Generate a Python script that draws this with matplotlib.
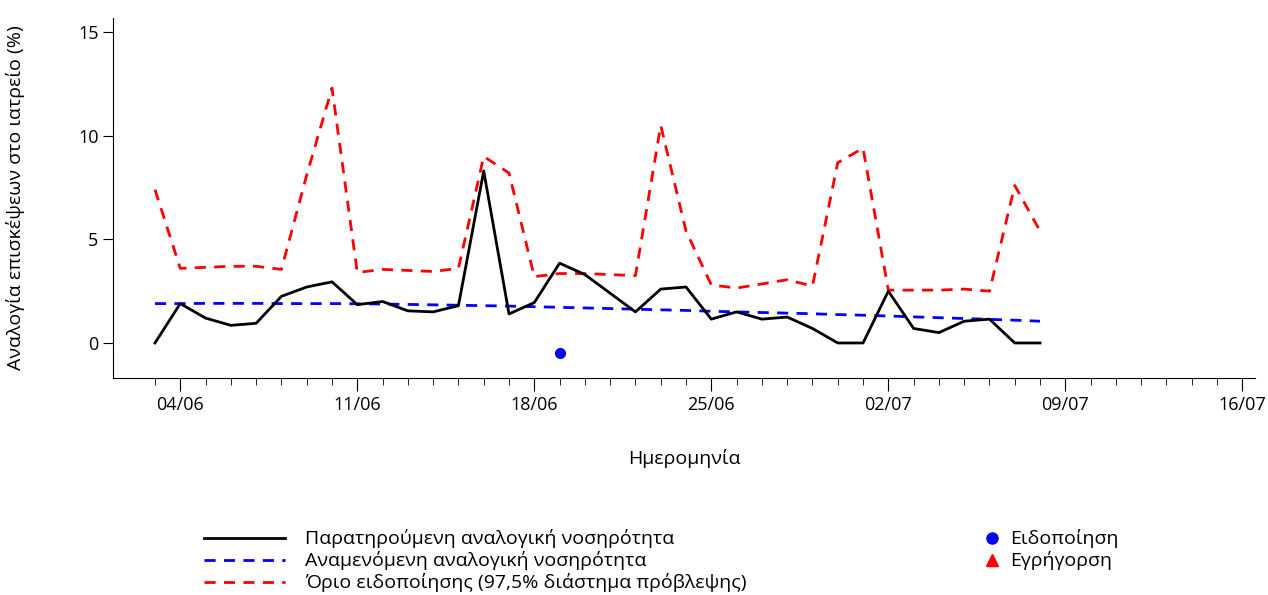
import matplotlib.pyplot as plt
from matplotlib.lines import Line2D

plt.rcParams['font.family'] = ['Open Sans', 'DejaVu Sans']

# day index 0 = 03/06
observed = [0, 1.9, 1.2, 0.85, 0.95, 2.25, 2.7, 2.95, 1.85, 2.0, 1.55, 1.5, 1.8, 8.3,
            1.4, 1.95, 3.85, 3.3, 2.4, 1.5, 2.6, 2.7, 1.15, 1.5, 1.15, 1.25, 0.7, 0, 0,
            2.5, 0.7, 0.5, 1.05, 1.15, 0, 0]
threshold = [7.4, 3.6, 3.65, 3.7, 3.7, 3.55, 8.1, 12.3, 3.4, 3.55, 3.5, 3.45, 3.6, 9.0,
             8.2, 3.2, 3.35, 3.35, 3.3, 3.25, 10.5, 5.4, 2.8, 2.65, 2.85, 3.05, 2.75,
             8.7, 9.4, 2.55, 2.55, 2.55, 2.6, 2.5, 7.6, 5.4]
expected = [1.9, 1.9, 1.91, 1.91, 1.91, 1.9, 1.9, 1.9, 1.89, 1.88, 1.86, 1.84, 1.82, 1.8,
            1.78, 1.75, 1.72, 1.69, 1.66, 1.63, 1.6, 1.57, 1.53, 1.5, 1.47, 1.44, 1.41,
            1.37, 1.34, 1.3, 1.26, 1.22, 1.18, 1.14, 1.1, 1.05]
days = list(range(len(observed)))
alarm_days = [16]
alarm_vals = [-0.5]
tick_days = [1, 8, 15, 22, 29, 36, 43]
tick_labels = ["04/06", "11/06", "18/06", "25/06", "02/07", "09/07", "16/07"]

fig = plt.figure(figsize=(12.68, 5.95), dpi=100)
ax = fig.add_axes([113/1268, 1-378/595, (1255-113)/1268, 360/595])

ax.plot(days, threshold, color="red", ls=(0, (4, 3)), lw=2)
ax.plot(days, expected, color="blue", ls=(0, (4, 3)), lw=2)
ax.plot(days, observed, color="black", lw=2)
ax.plot(alarm_days, alarm_vals, "o", color="blue", ms=7)

ax.set_xlim(-1.66, 43.5)
ax.set_ylim(-1.69, 15.68)
ax.set_yticks([0, 5, 10, 15])
ax.spines['top'].set_visible(False)
ax.spines['right'].set_visible(False)
ax.set_xticks(tick_days)
ax.set_xticklabels(tick_labels)
ax.set_xticks(range(0, 44), minor=True)
ax.tick_params(axis='x', which='major', length=9, labelsize=13, pad=4)
ax.tick_params(axis='x', which='minor', length=5)
ax.tick_params(axis='y', labelsize=13, length=7)
ax.set_xlabel("Ημερομηνία", fontsize=14, labelpad=25)
ax.set_ylabel("Αναλογία επισκέψεων στο ιατρείο (%)", fontsize=14, labelpad=38)

h1 = [Line2D([], [], color="black", lw=2),
      Line2D([], [], color="blue", lw=2, ls=(0, (4, 3))),
      Line2D([], [], color="red", lw=2, ls=(0, (4, 3)))]
l1 = ["Παρατηρούμενη αναλογική νοσηρότητα", "Αναμενόμενη αναλογική νοσηρότητα",
      "Όριο ειδοποίησης (97,5% διάστημα πρόβλεψης)"]
fig.legend(h1, l1, loc="upper left", bbox_to_anchor=(186/1268, 1-512/595), frameon=False,
           fontsize=14, handlelength=4.2, handletextpad=1.0, labelspacing=0.15)
h2 = [Line2D([], [], color="blue", marker="o", ls="none", ms=8),
      Line2D([], [], color="red", marker="^", ls="none", ms=8)]
fig.legend(h2, ["Ειδοποίηση", "Εγρήγορση"], loc="upper left",
           bbox_to_anchor=(965/1268, 1-512/595), frameon=False, fontsize=14,
           handlelength=1, handletextpad=0.4, labelspacing=0.15)

fig.savefig("out.png", dpi=100)
